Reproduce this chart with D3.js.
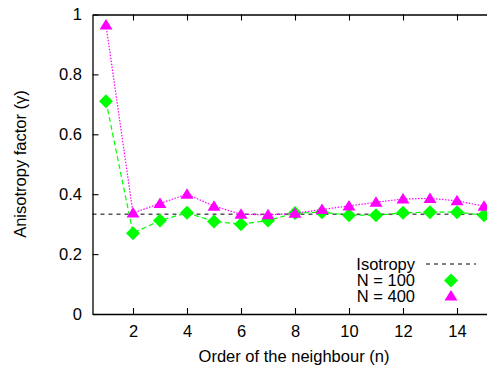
<!DOCTYPE html>
<html>
<head>
<meta charset="utf-8">
<script src="https://cdn.jsdelivr.net/npm/d3@7"></script>
<style>
  body { margin: 0; background: #fff; }
  text { font-family: "Liberation Sans", Arial, Helvetica, sans-serif; fill: #000; }
</style>
</head>
<body>
<svg id="svg"></svg>
<script>
// order of the neighbour
var neighbour = [1,2,3,4,5,6,7,8,9,10,11,12,13,14,15];
// anisotropy factor for the two system sizes
var n100 = [0.71,0.27,0.312,0.338,0.309,0.30,0.312,0.337,0.34,0.33,0.33,0.338,0.34,0.34,0.33];
var n400 = [0.965,0.337,0.369,0.40,0.36,0.333,0.331,0.336,0.349,0.361,0.373,0.384,0.386,0.378,0.36];
var isotropy = 1/3;
var xTicks = [2,4,6,8,10,12,14];
var yTicks = [0,0.2,0.4,0.6,0.8,1];
var legendLabels = ["Isotropy","N = 100","N = 400"];

var W = 487, H = 367;
var fs = 16.5;

var svg = d3.select("#svg").attr("width", W).attr("height", H);

var x_scale = d3.scaleLinear().domain([0.5, 15.2]).range([92.5, 489.4]);
var y_scale = d3.scaleLinear().domain([0, 1]).range([314, 14.5]);

var green = "#00ff00", pink = "#ff00ff";

// axes, ticks pointing inward
var xAxis = svg.append("g").attr("transform", "translate(0,314)")
    .call(d3.axisBottom(x_scale).tickValues(xTicks).tickSize(-6).tickPadding(11).tickSizeOuter(0));
var xTop = svg.append("g").attr("transform", "translate(0,14.5)")
    .call(d3.axisTop(x_scale).tickValues(xTicks).tickSize(-6).tickFormat("").tickSizeOuter(0));
var yAxis = svg.append("g").attr("transform", "translate(92.5,0)")
    .call(d3.axisLeft(y_scale).tickValues(yTicks).tickSize(-6).tickPadding(10.5).tickSizeOuter(0)
      .tickFormat(function(d){ return d3.format("")(+d.toFixed(1)); }));

svg.selectAll(".domain").attr("stroke", "#000").attr("stroke-width", 1.3);
svg.selectAll(".tick line").attr("stroke", "#000").attr("stroke-width", 1.1);
svg.selectAll(".tick text").style("font-size", fs + "px")
   .style("font-family", "'Liberation Sans', Arial, sans-serif");

// axis titles
svg.append("text").attr("x", 294).attr("y", 361.5).attr("text-anchor", "middle")
   .style("font-size", fs + "px").text("Order of the neighbour (n)");
svg.append("text").attr("transform", "translate(26,164) rotate(-90)").attr("text-anchor", "middle")
   .style("font-size", fs + "px").text("Anisotropy factor (\u03b3)");

// isotropy reference
svg.append("line")
   .attr("x1", x_scale(0.5)).attr("x2", x_scale(15.2))
   .attr("y1", y_scale(isotropy)).attr("y2", y_scale(isotropy))
   .attr("stroke", "#000").attr("stroke-width", 1).attr("stroke-dasharray", "4,4");

var lineFunction = d3.line()
    .x(function(d){ return x_scale(d[0]); })
    .y(function(d){ return y_scale(d[1]); });

var d100 = neighbour.map(function(n, i){ return [n, n100[i]]; });
var d400 = neighbour.map(function(n, i){ return [n, n400[i]]; });

var diamond = function(cx, cy){ var r = 7; return "M"+cx+","+(cy-r)+"L"+(cx+r)+","+cy+"L"+cx+","+(cy+r)+"L"+(cx-r)+","+cy+"Z"; };
var triangle = function(cx, cy){ return "M"+cx+","+(cy-6)+"L"+(cx+6.5)+","+(cy+4.5)+"L"+(cx-6.5)+","+(cy+4.5)+"Z"; };

svg.append("path").attr("d", lineFunction(d100)).attr("fill", "none")
   .attr("stroke", green).attr("stroke-width", 1.2).attr("stroke-dasharray", "5,3");
svg.selectAll(".p100").data(d100).enter().append("path")
   .attr("d", function(d){ return diamond(x_scale(d[0]), y_scale(d[1])); })
   .attr("fill", green);

svg.append("path").attr("d", lineFunction(d400)).attr("fill", "none")
   .attr("stroke", pink).attr("stroke-width", 1.2).attr("stroke-dasharray", "1.5,1.5");
svg.selectAll(".p400").data(d400).enter().append("path")
   .attr("d", function(d){ return triangle(x_scale(d[0]), y_scale(d[1])); })
   .attr("fill", pink);

// legend
var legY = [264, 280.5, 296];
legendLabels.forEach(function(l, i){
  svg.append("text").attr("x", 415).attr("y", legY[i] + 5.5).attr("text-anchor", "end")
     .style("font-size", fs + "px").text(l);
});
svg.append("line").attr("x1", 426).attr("x2", 476).attr("y1", legY[0]).attr("y2", legY[0])
   .attr("stroke", "#000").attr("stroke-width", 1).attr("stroke-dasharray", "4,4");
svg.append("path").attr("d", diamond(451, legY[1])).attr("fill", green);
svg.append("path").attr("d", triangle(451, legY[2])).attr("fill", pink);
</script>
</body>
</html>
